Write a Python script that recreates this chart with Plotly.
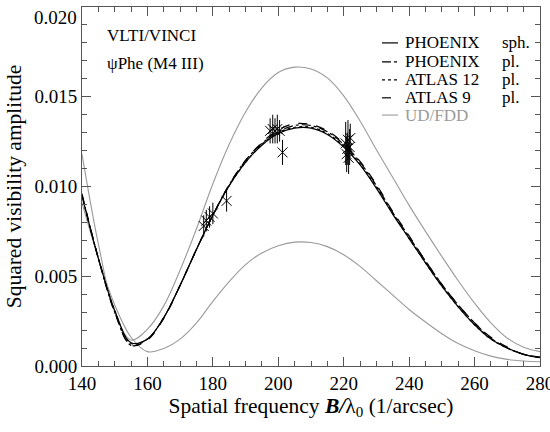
# Squared visibility of psi Phe (VLTI/VINCI) around the second lobe

import plotly.graph_objects as go

# spatial frequency grid of the model curves (1/arcsec)
freq = [140, 145, 150, 155, 160, 165, 170, 175, 180, 185, 190, 195, 200, 205, 210,
        215, 220, 225, 230, 235, 240, 245, 250, 255, 260, 265, 270, 275, 280]

phoenix_sph = [0.00950, 0.00600, 0.00310, 0.00130, 0.00150, 0.00270, 0.00450, 0.00650,
               0.00840, 0.01005, 0.01135, 0.01230, 0.01295, 0.01325, 0.01325, 0.01290,
               0.01220, 0.01120, 0.00990, 0.00845, 0.00710, 0.00575, 0.00445, 0.00330,
               0.00230, 0.00150, 0.00100, 0.00065, 0.00046]
phoenix_pl = [0.00950, 0.00600, 0.00300, 0.00115, 0.00150, 0.00270, 0.00450, 0.00650,
              0.00840, 0.01010, 0.01145, 0.01240, 0.01305, 0.01340, 0.01340, 0.01305,
              0.01235, 0.01135, 0.01005, 0.00855, 0.00720, 0.00585, 0.00455, 0.00340,
              0.00240, 0.00155, 0.00100, 0.00065, 0.00048]
atlas12 = [0.00950, 0.00600, 0.00310, 0.00125, 0.00150, 0.00270, 0.00450, 0.00650,
           0.00840, 0.01005, 0.01135, 0.01235, 0.01300, 0.01330, 0.01330, 0.01295,
           0.01225, 0.01125, 0.00995, 0.00850, 0.00710, 0.00575, 0.00445, 0.00330,
           0.00230, 0.00150, 0.00100, 0.00065, 0.00046]
atlas9 = [0.00960, 0.00600, 0.00300, 0.00115, 0.00145, 0.00265, 0.00450, 0.00650,
          0.00840, 0.01010, 0.01145, 0.01245, 0.01315, 0.01350, 0.01345, 0.01310,
          0.01240, 0.01140, 0.01010, 0.00860, 0.00725, 0.00585, 0.00455, 0.00340,
          0.00240, 0.00160, 0.00105, 0.00065, 0.00050]
ud = [0.01180, 0.00680, 0.00300, 0.00145, 0.00205, 0.00335, 0.00535, 0.00765,
      0.01015, 0.01235, 0.01415, 0.01550, 0.01635, 0.01665, 0.01655, 0.01605,
      0.01505, 0.01365, 0.01205, 0.01050, 0.00895, 0.00750, 0.00610, 0.00475,
      0.00350, 0.00240, 0.00155, 0.00105, 0.00080]
fdd = [0.00910, 0.00600, 0.00340, 0.00160, 0.00080, 0.00098, 0.00150, 0.00240,
       0.00360, 0.00470, 0.00565, 0.00630, 0.00670, 0.00690, 0.00688, 0.00665,
       0.00620, 0.00555, 0.00475, 0.00395, 0.00315, 0.00245, 0.00180, 0.00125,
       0.00085, 0.00055, 0.00037, 0.00028, 0.00024]

# VINCI measurements
obs_freq = [177.2, 178.0, 179.0, 180.0, 184.2,
            197.5, 198.3, 199.0, 199.7, 200.4, 201.3,
            220.6, 220.9, 221.1, 221.3, 221.5, 221.8, 222.0]
obs_v2 = [0.0078, 0.0081, 0.0083, 0.0085, 0.0092,
          0.0131, 0.0132, 0.0131, 0.0132, 0.0131, 0.0119,
          0.0124, 0.0118, 0.0121, 0.0126, 0.0116, 0.0122, 0.0127]
obs_err = [0.0006, 0.0006, 0.0006, 0.0006, 0.0006,
           0.0007, 0.0008, 0.0007, 0.0008, 0.0006, 0.0007,
           0.0012, 0.0010, 0.0009, 0.0011, 0.0009, 0.0010, 0.0008]

x_ticks = [140, 160, 180, 200, 220, 240, 260, 280]
y_ticks = [0.000, 0.005, 0.010, 0.015, 0.020]

FONT = "Liberation Serif, Times New Roman, serif"
GRAY = "#9a9a9a"
AXIS = "#555555"

fig = go.Figure()

for vals in (ud, fdd):
    fig.add_trace(go.Scatter(x=freq, y=vals, mode="lines", line_shape="spline",
                             line=dict(color=GRAY, width=1.1)))

models = [
    (phoenix_sph, "solid"),
    (phoenix_pl, "dashdot"),
    (atlas12, "dot"),
    (atlas9, "dash"),
]
for vals, dash in models:
    fig.add_trace(go.Scatter(x=freq, y=vals, mode="lines", line_shape="spline",
                             line=dict(color="black", width=1.2, dash=dash)))

fig.add_trace(go.Scatter(
    x=obs_freq, y=obs_v2, mode="markers",
    marker=dict(symbol="x-thin", size=10, line=dict(color="black", width=1)),
    error_y=dict(type="data", array=obs_err, color="black", thickness=1, width=0),
))

# legend drawn by hand, IDL style
legend_rows = [
    ("PHOENIX", "sph.", "solid", "black"),
    ("PHOENIX", "pl.", "dashdot", "black"),
    ("ATLAS 12", "pl.", "dot", "black"),
    ("ATLAS 9", "pl.", "dash", "black"),
    ("UD/FDD", "", "solid", GRAY),
]
row_y = [0.900, 0.847, 0.797, 0.747, 0.699]
for (name, kind, dash, color), y in zip(legend_rows, row_y):
    fig.add_shape(type="line", xref="paper", yref="paper", x0=0.655, x1=0.69, y0=y, y1=y,
                  line=dict(color=color, width=1.2 if color == "black" else 1.1, dash=dash))
    fig.add_annotation(x=0.701, y=y, xref="paper", yref="paper", text=name, showarrow=False,
                       xanchor="left", yanchor="middle", font=dict(size=17, color=color))
    if kind:
        fig.add_annotation(x=0.913, y=y, xref="paper", yref="paper", text=kind, showarrow=False,
                           xanchor="left", yanchor="middle", font=dict(size=17, color=color))

fig.add_annotation(x=0.05, y=0.92, xref="paper", yref="paper", text="VLTI/VINCI",
                   showarrow=False, xanchor="left", yanchor="middle", font=dict(size=17))
fig.add_annotation(x=0.05, y=0.843, xref="paper", yref="paper", text="ψPhe (M4 III)",
                   showarrow=False, xanchor="left", yanchor="middle", font=dict(size=17))

# top y label sits just under the frame corner, as in the original
fig.add_annotation(x=0, y=1, xref="paper", yref="paper", text="%.3f" % y_ticks[-1],
                   showarrow=False, xanchor="right", yanchor="top", xshift=-3, yshift=2,
                   font=dict(size=19))

axis_style = dict(
    showline=True, linecolor=AXIS, linewidth=1, mirror="allticks",
    ticks="inside", ticklen=9, tickcolor=AXIS, showgrid=False, zeroline=False,
    tickfont=dict(size=19, color="black"), automargin=False, ticklabeloverflow="allow",
)

fig.update_xaxes(range=[140, 280], tickmode="array", tickvals=x_ticks,
                 ticktext=[str(v) for v in x_ticks],
                 minor=dict(ticks="inside", dtick=5, ticklen=5, tickcolor=AXIS),
                 title=dict(text="Spatial frequency <b><i>B/</i></b>λ<sub>0</sub> (1/arcsec)",
                            font=dict(size=21.5), standoff=2),
                 **axis_style)
fig.update_yaxes(range=[0, 0.020], tickmode="array", tickvals=y_ticks[:-1],
                 ticktext=["%.3f" % v for v in y_ticks[:-1]],
                 minor=dict(ticks="inside", dtick=0.001, ticklen=5, tickcolor=AXIS),
                 title=dict(text="Squared visibility amplitude", font=dict(size=21.5), standoff=6),
                 **axis_style)

fig.update_layout(
    width=550, height=432,
    margin=dict(l=82, r=10, t=7, b=66),
    plot_bgcolor="white",
    paper_bgcolor="white",
    showlegend=False,
    font=dict(family=FONT, size=17, color="black"),
)

fig.write_html("out.html", config={"displayModeBar": False},
               post_script="document.body.style.margin = '0';")
